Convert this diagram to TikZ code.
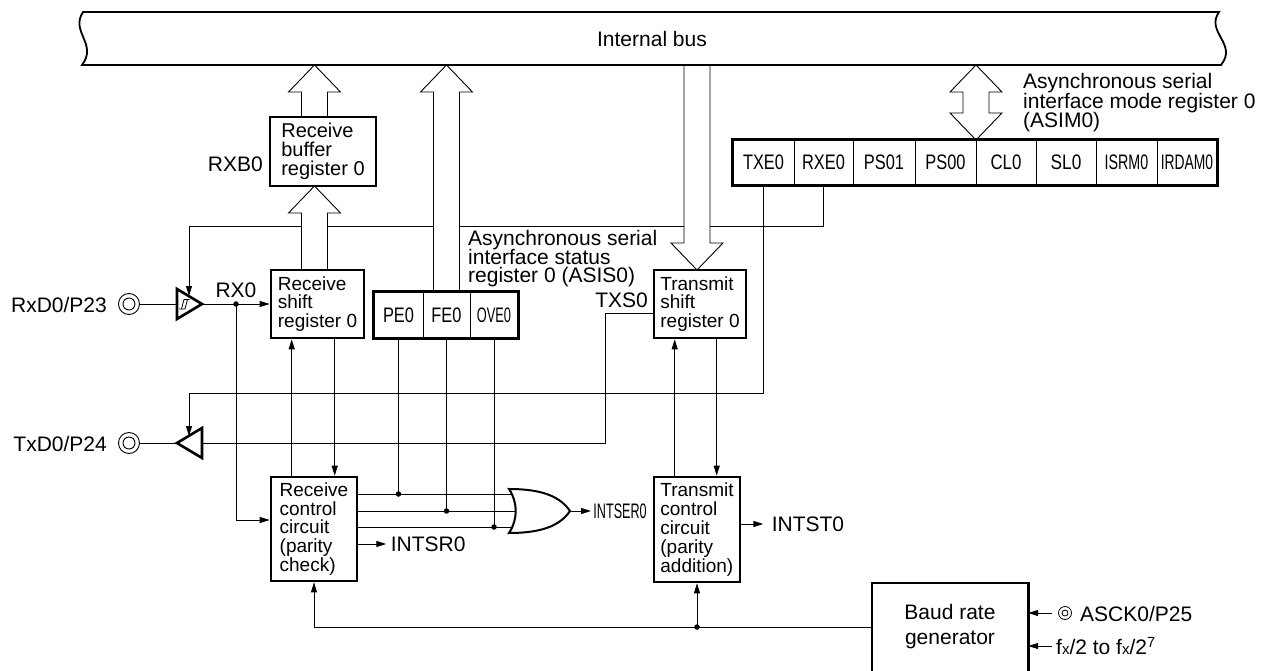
\documentclass[tikz,border=0pt]{standalone}
\usepackage{fontspec}
\setmainfont{Liberation Sans}
\usepackage{graphicx}
\usetikzlibrary{arrows.meta}
\pgfdeclarelayer{back}
\pgfsetlayers{back,main}
\newcommand{\narrowtxt}[2]{\scalebox{#1}[1]{#2}}
\newcommand{\hollowup}[3]{\filldraw[wire,fill=white] ({#1-13},#2) -- ({#1-13},{#3+27}) -- ({#1-26},{#3+27}) -- (#1,#3) -- ({#1+26},{#3+27}) -- ({#1+13},{#3+27}) -- ({#1+13},#2);}
\newcommand{\hollowdown}[3]{\filldraw[wire,fill=white] ({#1-13},#2) -- ({#1-13},{#3-27}) -- ({#1-26},{#3-27}) -- (#1,#3) -- ({#1+26},{#3-27}) -- ({#1+13},{#3-27}) -- ({#1+13},#2);}
\newcommand{\hollowboth}[3]{\filldraw[wire,fill=white] ({#1-13},{#2+27}) -- ({#1-26},{#2+27}) -- (#1,#2) -- ({#1+26},{#2+27}) -- ({#1+13},{#2+27}) -- ({#1+13},{#3-27}) -- ({#1+26},{#3-27}) -- (#1,#3) -- ({#1-26},{#3-27}) -- ({#1-13},{#3-27}) -- cycle;}
\begin{document}
\begin{tikzpicture}[x=1pt,y=-1pt,font=\fontsize{21}{23}\selectfont,
 wire/.style={line width=0.9pt},
 arr/.style={line width=0.9pt,-{Triangle[length=10pt,width=6pt]}},
 boxln/.style={line width=2.6pt},
 blk/.style={draw,line width=2.6pt,align=left,inner sep=0pt,font=\fontsize{19}{18.8}\selectfont},
 cell/.style={draw,line width=0.9pt,minimum height=45pt,inner sep=0pt,font=\fontsize{21}{22}\selectfont},
 dot/.style={circle,fill,inner sep=0pt,minimum size=5.5pt},
 lbl/.style={inner sep=0pt},
 desc/.style={inner sep=0pt,anchor=base west,font=\fontsize{21}{21}\selectfont},
 pin/.style={circle,draw,line width=0.9pt,inner sep=0pt,minimum size=21pt}]
\useasboundingbox (0,0) rectangle (1261,671);

% internal bus
\node[lbl] (bus) at (652,39) {Internal bus};
\draw[line width=1.8pt] (83,12) -- (1219,12) .. controls (1205,32) and (1238,44) .. (1221,65) -- (82,65) .. controls (98,44) and (70,32) .. (83,12) -- cycle;

% blocks
\node[blk,minimum width=106pt,minimum height=69pt,font=\fontsize{20}{18.8}\selectfont] (rxb) at (323,151.5) {Receive\\buffer\\register 0};
\node[blk,minimum width=93pt,minimum height=68pt] (rxs) at (317.5,304) {Receive\\shift\\register 0};
\node[blk,minimum width=92pt,minimum height=68pt] (txs) at (700,304) {Transmit\\shift\\register 0};
\node[blk,minimum width=86pt,minimum height=104pt] (rxc) at (314,529) {Receive\\control\\circuit\\(parity\\check)};
\node[blk,minimum width=86pt,minimum height=105pt] (txc) at (697,529.5) {Transmit\\control\\circuit\\(parity\\addition)};
\node[lbl,minimum width=156pt,minimum height=88pt,align=center,font=\fontsize{21}{25}\selectfont] (baud) at (950,627) {Baud rate\\generator};
\draw[boxln] (baud.south west) -- (baud.north west) -- (baud.north east) -- (baud.south east);

% ASIM0 register
\node[cell,minimum width=61pt] (txe) at (763.5,162.5) {\narrowtxt{0.78}{TXE0}};
\node[cell,minimum width=59pt] (rxe) at (823.5,162.5) {\narrowtxt{0.78}{RXE0}};
\node[cell,minimum width=62pt] (ps01) at (884,162.5) {\narrowtxt{0.78}{PS01}};
\node[cell,minimum width=61pt] (ps00) at (945.5,162.5) {\narrowtxt{0.78}{PS00}};
\node[cell,minimum width=60pt] (cl0) at (1006,162.5) {\narrowtxt{0.8}{CL0}};
\node[cell,minimum width=60pt] (sl0) at (1066,162.5) {\narrowtxt{0.82}{SL0}};
\node[cell,minimum width=61pt] (isrm) at (1126.5,162.5) {\narrowtxt{0.68}{ISRM0}};
\node[cell,minimum width=60pt] (irdam) at (1187,162.5) {\narrowtxt{0.66}{IRDAM0}};
\draw[boxln] (txe.north west) rectangle (irdam.south east);

% ASIS0 register
\node[cell,minimum width=49pt,minimum height=46pt] (pe) at (398.5,315) {\narrowtxt{0.78}{PE0}};
\node[cell,minimum width=47pt,minimum height=46pt] (fe) at (446.5,315) {\narrowtxt{0.78}{FE0}};
\node[cell,minimum width=48pt,minimum height=46pt] (ove) at (494,315) {\narrowtxt{0.61}{OVE0}};
\draw[boxln] (pe.north west) rectangle (ove.south east);

% labels
\node[lbl,anchor=east] (rxblbl) at (263,164) {RXB0};
\node[lbl] (rx0lbl) at (236,290) {RX0};
\node[lbl,anchor=east] (txslbl) at (648,300.5) {TXS0};
\node[lbl,anchor=east] (rxdlbl) at (107,304.5) {RxD0/P23};
\node[lbl,anchor=east] (txdlbl) at (107,444) {TxD0/P24};
\node[desc] (asis1) at (468,245.5) {Asynchronous serial};
\node[desc] (asis2) at (468,264) {interface status};
\node[desc] (asis3) at (468,282.5) {register 0 (ASIS0)};
\node[desc] (asim1) at (1023,89) {Asynchronous serial};
\node[desc] (asim2) at (1023,108.5) {interface mode register 0};
\node[desc] (asim3) at (1023,128) {(ASIM0)};

% pins
\node[pin] (rxpin) at (129,304) {};
\draw[line width=0.9pt] (rxpin.center) circle[radius=6pt];
\node[pin] (txpin) at (129,443) {};
\draw[line width=0.9pt] (txpin.center) circle[radius=6pt];

% buffers
\draw[boxln,fill=white,line join=miter] (177,289) -- (202,304) -- (177,319) -- cycle;
\draw[line width=0.8pt] (179,309) -- (185,309) -- (187.5,299.5);
\draw[line width=0.8pt] (181.5,309) -- (184,299.5) -- (189.5,299.5);
\coordinate (sbin) at (189,296);
\coordinate (sbout) at (202,304);
\coordinate (sbleft) at (177,304);
\draw[boxln,fill=white,line join=miter] (202,428) -- (177,443) -- (202,458) -- cycle;
\coordinate (tbin) at (189,436);
\coordinate (tbtip) at (177,443);
\coordinate (tbbase) at (202,443);
\coordinate (txsbend) at (605,443);

% OR gate
\draw[line width=2pt,fill=white] (509,489) .. controls (545,489) and (561,498) .. (570,511) .. controls (561,524) and (545,533) .. (509,533) .. controls (518,519) and (518,503) .. (509,489) -- cycle;
\coordinate (orout) at (571,511);
\coordinate (or1) at (516,494);
\coordinate (or2) at (518,511);
\coordinate (or3) at (516,527);

\node[dot] (rxdot) at (236,304) {};
\node[dot] (d1) at (pe.south |- or1) {};
\node[dot] (d2) at (fe.south |- or2) {};
\node[dot] (d3) at (ove.south |- or3) {};
\node[dot] (bdot) at (txc.south |- baud.west) {};

\begin{pgfonlayer}{back}
\draw[wire] (rxpin) -- (sbleft);
\draw[wire] (txpin) -- (tbtip);
\draw[arr] (sbout) -- (rxs);
\draw[arr] (rxdot.center) |- ([yshift=9pt]rxc.west);
\draw[arr] (rxe.south) -- ++(0,41) -| (sbin);
\draw[arr] (txe.south) -- ++(0,208) -| (tbin);
\draw[wire] ([yshift=-9pt]txs.west) -| (txsbend) -- (tbbase);
\draw[arr] ([xshift=22pt]rxc.north west) -- ([xshift=22pt]rxs.south west);
\draw[arr] ([xshift=65pt]rxs.south west) -- ([xshift=65pt]rxc.north west);
\draw[arr] ([xshift=22pt]txc.north west) -- ([xshift=22pt]txs.south west);
\draw[arr] ([xshift=64pt]txs.south west) -- ([xshift=64pt]txc.north west);
\draw[wire] (rxc.east |- or1) -- (or1);
\draw[wire] (rxc.east |- or2) -- (or2);
\draw[wire] (rxc.east |- or3) -- (or3);
\draw[wire] (pe.south) -- (d1.center);
\draw[wire] (fe.south) -- (d2.center);
\draw[wire] (ove.south) -- (d3.center);
\draw[arr] (baud.west) -| (rxc.south);
\draw[arr] (bdot.center) -- (txc.south);
\hollowup{314.5}{117}{65}
\hollowup{314.5}{270}{186}
\hollowup{446.5}{292}{65}
\hollowdown{697}{65}{270}
\hollowboth{976}{65}{140}
\end{pgfonlayer}

% outputs
\draw[arr] (orout) -- ++(20,0) node[lbl,anchor=west,xshift=2pt] (intser) {\narrowtxt{0.6}{INTSER0}};
\draw[arr] ([yshift=-15pt]rxc.east) -- ++(28,0) node[lbl,anchor=west,xshift=4pt] (intsr) {INTSR0};
\draw[arr] ([yshift=5.5pt]txc.east) -- ++(22,0) node[lbl,anchor=west,xshift=8pt] (intst) {INTST0};

% baud inputs
\coordinate (asck) at (1052,613);
\coordinate (fxin) at (1052,646);
\draw[arr] (asck) -- ([yshift=14pt]baud.east);
\draw[arr] (fxin) -- ([yshift=-19pt]baud.east);
\node[circle,draw,line width=0.8pt,inner sep=0pt,minimum size=13pt] (asckpin) at (1065,613) {};
\draw[line width=0.8pt] (asckpin.center) circle[radius=3pt];
\node[lbl,anchor=west] (asckl) at (1080,614) {ASCK0/P25};
\node[lbl,anchor=west] (fxl) at (1056,646) {f{\fontsize{15}{15}\selectfont x}/2 to f{\fontsize{15}{15}\selectfont x}/2\textsuperscript{7}};
\end{tikzpicture}
\end{document}
